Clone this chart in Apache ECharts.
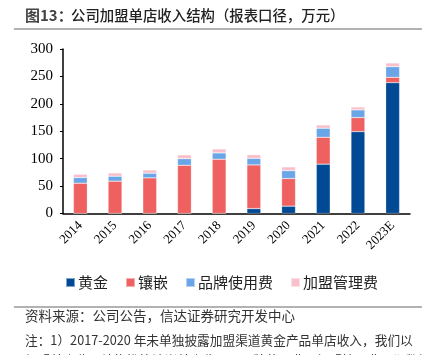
<!DOCTYPE html>
<html><head><meta charset="utf-8">
<script src="https://cdn.jsdelivr.net/npm/echarts@6/dist/echarts.min.js"></script>
<style>html,body{margin:0;padding:0;background:#fff}#c{width:430px;height:355px}</style>
</head><body><div id="c"></div>
<script>
var categories = ['2014','2015','2016','2017','2018','2019','2020','2021','2022','2023E'];
var gold   = [0, 0, 0, 0, 0, 9, 13.4, 90, 149.4, 238.7];
var inlay  = [55.3, 59, 65, 88, 99, 79.6, 50.4, 49, 25.6, 9.7];
var brand  = [10.3, 9, 8.5, 12, 11.5, 12, 14.5, 16.5, 14, 19.4];
var mgmt   = [6.1, 6, 6, 7, 7.3, 6.7, 6.7, 6, 5.3, 6.7];
var seriesNames = ['黄金','镶嵌','品牌使用费','加盟管理费'];
var yTicks = {min: 0, max: 300, interval: 50};

var colors = ['#004A95','#EF6060','#6AA5E8','#F9C0CB'];
var cjk = '"Noto Sans CJK SC", sans-serif';
var serif = '"Liberation Serif", "DejaVu Serif", serif';
var chart = echarts.init(document.getElementById('c'), null, {renderer:'canvas'});
var dataSets = [gold, inlay, brand, mgmt];
chart.setOption({
  animation: false,
  color: colors,
  grid: {left: 63, right: 20, top: 49, bottom: 141.5, containLabel: false},
  legend: {
    data: seriesNames, left: 60, top: 270, itemWidth: 9, itemHeight: 9, itemGap: 17,
    icon: 'rect', textStyle: {fontFamily: cjk, fontSize: 15, color: '#222', padding:[0,0,0,-2]}
  },
  xAxis: {
    type: 'category', data: categories,
    axisLine: {lineStyle: {color: '#000', width: 1.5}},
    axisTick: {show: false},
    axisLabel: {rotate: 45, margin: 10, fontFamily: serif, fontSize: 13, color: '#000', interval: 0}
  },
  yAxis: {
    type: 'value', min: yTicks.min, max: yTicks.max, interval: yTicks.interval,
    axisLine: {show: true, lineStyle: {color: '#000', width: 1.5}},
    axisTick: {show: true, length: 3, inside: false, lineStyle: {color: '#000'}},
    splitLine: {show: false},
    axisLabel: {margin: 10, fontFamily: serif, fontSize: 15, color: '#000'}
  },
  series: seriesNames.map(function(n, i){
    return {name: n, type: 'bar', stack: 'total', barWidth: '40%', data: dataSets[i],
      itemStyle: {borderColor: 'rgba(255,255,255,0.5)', borderWidth: 0.5}};
  }),
  graphic: [
    {type: 'text', left: 25, top: 8, style: {text: '图13：', font: 'bold 15px "Noto Sans CJK SC"', fill: '#444'}},
    {type: 'text', left: 71, top: 8, style: {text: '公司加盟单店收入结构（报表口径，万元）', font: '500 14.4px "Noto Sans CJK SC"', fill: '#222'}},
    {type: 'line', shape: {x1: 14, y1: 29, x2: 422, y2: 29}, style: {stroke: '#999', lineWidth: 1.5}},
    {type: 'line', shape: {x1: 14, y1: 307, x2: 422, y2: 307}, style: {stroke: '#999', lineWidth: 1.5}},
    {type: 'text', left: 25, top: 309, style: {text: '资料来源：公司公告，信达证券研究开发中心', font: '13.5px "Noto Sans CJK SC"', fill: '#333'}},
    {type: 'text', left: 25, top: 334, style: {text: '注：1）2017-2020 年未单独披露加盟渠道黄金产品单店收入，我们以', font: '12.7px "Noto Sans CJK SC"', fill: '#333'}},
    {type: 'text', left: 25, top: 354, style: {text: '加盟单店收入结构推算镶嵌单店收入，品牌使用费、加盟管理费同期数据', font: '12.7px "Noto Sans CJK SC"', fill: '#333'}}
  ]
});
</script></body></html>
